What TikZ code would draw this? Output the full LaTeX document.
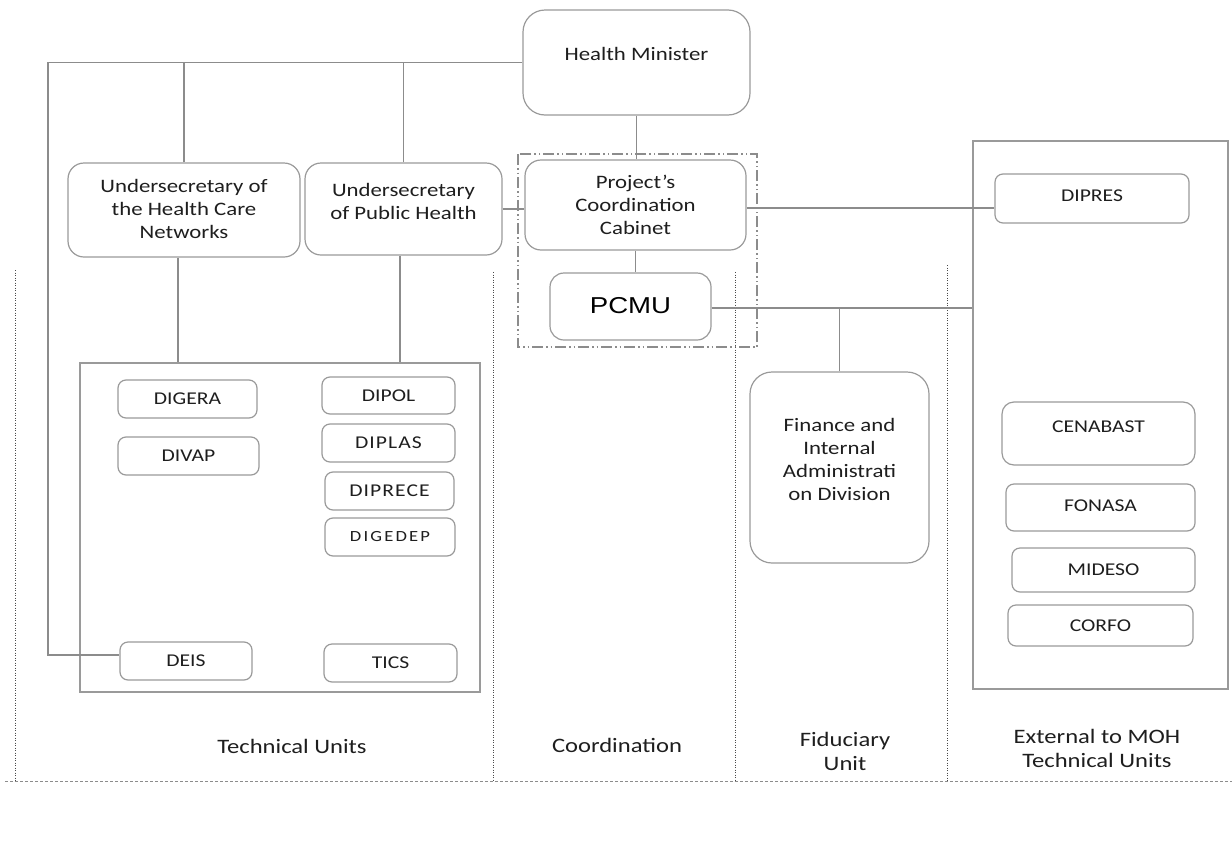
\documentclass[tikz,border=0pt]{standalone}
\usepackage{fontspec}
\setmainfont{Carlito}[FakeStretch=1.2]
\newfontfamily\arialfont{Liberation Sans}[FakeStretch=1.2]
\definecolor{txt}{HTML}{1E1E1E}
\definecolor{linegray}{HTML}{8C8C8C}
\definecolor{boxgray}{HTML}{9A9A9A}
\definecolor{sepgray}{HTML}{4A4A4A}
\newcommand{\up}[2]{\raisebox{#1}[0pt][0pt]{#2}}
\newcommand{\uplines}[2]{\raisebox{#1}[0pt][0pt]{\begin{tabular}[t]{@{}c@{}}#2\end{tabular}}}
\tikzset{
  bigbox/.style={draw=boxgray, line width=1.2pt, rounded corners=22pt, inner sep=0pt, text=txt, align=center, font=\fontsize{19}{23}\selectfont},
  midbox/.style={draw=boxgray, line width=1.2pt, rounded corners=16pt, inner sep=0pt, text=txt, align=center, font=\fontsize{19}{23}\selectfont},
  smallbox/.style={draw=boxgray, line width=1.2pt, rounded corners=8pt, inner sep=0pt, text=txt, align=center, font=\fontsize{18}{22}\selectfont},
  framebox/.style={draw=boxgray, line width=1.2pt, inner sep=0pt},
  conn/.style={draw=linegray, line width=1.2pt},
  sep/.style={draw=sepgray, line width=0.9pt, dash pattern=on 1pt off 1.5pt},
  basel/.style={draw=linegray, line width=0.8pt, dash pattern=on 3pt off 2pt},
  dashdot/.style={draw=linegray, line width=1.3pt, dash pattern=on 11pt off 3pt on 1.5pt off 3pt on 1.5pt off 3pt},
  lbl/.style={text=txt, align=center, inner sep=0pt, font=\fontsize{20.5}{24}\selectfont}
}
\begin{document}
\begin{tikzpicture}[x=1pt,y=-1pt]
\useasboundingbox (0,0) rectangle (1232,865);
% frames
\node[framebox, minimum width=400pt, minimum height=329pt] (tech) at (280,527.5) {};
\node[framebox, minimum width=255pt, minimum height=548pt] (ext) at (1100.5,415) {};
\draw[dashdot] (518,154) rectangle (757,347);
% separators
\draw[sep] (15,270) -- (15,781);
\draw[sep] (493,272) -- (493,781);
\draw[sep] (735,272) -- (735,781);
\draw[sep] (947,265) -- (947,781);
\draw[basel] (5,781) -- (1232,781);
% main boxes
\node[bigbox, minimum width=227pt, minimum height=105pt] (hm) at (636.5,62.5) {\up{2pt}{Health Minister}};
\node[midbox, minimum width=232pt, minimum height=94pt] (hcn) at (184,210) {\uplines{17.7pt}{Undersecretary of\\the Health Care\\Networks}};
\node[midbox, minimum width=197pt, minimum height=92pt] (ph) at (403.5,209) {\uplines{12.5pt}{Undersecretary\\of Public Health}};
\node[midbox, minimum width=221pt, minimum height=90pt] (pcc) at (635.5,205) {\uplines{16.7pt}{Project’s\\Coordination\\Cabinet}};
\node[midbox, rounded corners=14pt, minimum width=161pt, minimum height=67pt, font=\arialfont\fontsize{23}{27}\selectfont, text=black] (pcmu) at (630.5,306.5) {\up{-6.8pt}{PCMU}};
\node[bigbox, minimum width=179pt, minimum height=191pt] (fin) at (839.5,467.5) {\uplines{35.8pt}{Finance and\\Internal\\Administrati\\on Division}};
\node[smallbox, minimum width=194pt, minimum height=49pt] (dipres) at (1092,198.5) {\up{-2.5pt}{DIPRES}};
% technical units
\node[smallbox, minimum width=139pt, minimum height=38pt] (digera) at (187.5,399) {DIGERA};
\node[smallbox, minimum width=141pt, minimum height=38pt] (divap) at (188.5,456) {DIVAP};
\node[smallbox, minimum width=133pt, minimum height=37pt] (dipol) at (388.5,395.5) {DIPOL};
\node[smallbox, minimum width=133pt, minimum height=38pt] (diplas) at (388.5,443) {\addfontfeature{LetterSpace=6}DIPLAS};
\node[smallbox, minimum width=129pt, minimum height=38pt] (diprece) at (389.5,491) {\addfontfeature{LetterSpace=6}DIPRECE};
\node[smallbox, minimum width=130pt, minimum height=38pt, font=\fontsize{15.5}{19}\selectfont] (digedep) at (390,537) {\addfontfeature{LetterSpace=14}DIGEDEP};
\node[smallbox, minimum width=132pt, minimum height=38pt] (deis) at (186,661) {DEIS};
\node[smallbox, minimum width=133pt, minimum height=38pt] (tics) at (390.5,663) {TICS};
% external
\node[smallbox, rounded corners=12pt, minimum width=193pt, minimum height=63pt] (cenabast) at (1098.5,433.5) {\up{1.5pt}{CENABAST}};
\node[smallbox, minimum width=189pt, minimum height=47pt] (fonasa) at (1100.5,507.5) {\up{-3.5pt}{FONASA}};
\node[smallbox, minimum width=183pt, minimum height=44pt] (mideso) at (1103.5,570) {MIDESO};
\node[smallbox, minimum width=185pt, minimum height=41pt] (corfo) at (1100.5,625.5) {CORFO};
% labels
\node[lbl] (ltech) at (292,746) {Technical Units};
\node[lbl] (lcoord) at (617,745) {Coordination};
\node[lbl] (lfid) at (845,751) {Fiduciary\\Unit};
\node[lbl] (lext) at (1097,748) {External to MOH\\Technical Units};
% connectors
\coordinate (tl) at (48,62.5);
\coordinate (pcmuout) at ([yshift=-1.5pt]pcmu.east);
\coordinate (pccout) at ([yshift=-3pt]pcc.east);
\draw[conn] (hm.west) -- (tl) |- ([yshift=6pt]deis.west);
\draw[conn] (hcn.north) -- (hcn.north |- hm.west);
\draw[conn] (ph.north) -- (ph.north |- hm.west);
\draw[conn] ([xshift=-6pt]hcn.south) -- ([xshift=-6pt]hcn.south |- tech.north);
\draw[conn] ([xshift=-3.5pt]ph.south) -- ([xshift=-3.5pt]ph.south |- tech.north);
\draw[conn] (ph.east) -- (ph.east -| pcc.west);
\draw[conn] (hm.south) -- (hm.south |- pcc.north);
\draw[conn] (pcc.south) -- (pcc.south |- pcmu.north);
\draw[conn] (pccout) -- (pccout -| dipres.west);
\draw[conn] (pcmuout) -- (pcmuout -| ext.west);
\draw[conn] (fin.north) -- (fin.north |- pcmuout);
\end{tikzpicture}
\end{document}
